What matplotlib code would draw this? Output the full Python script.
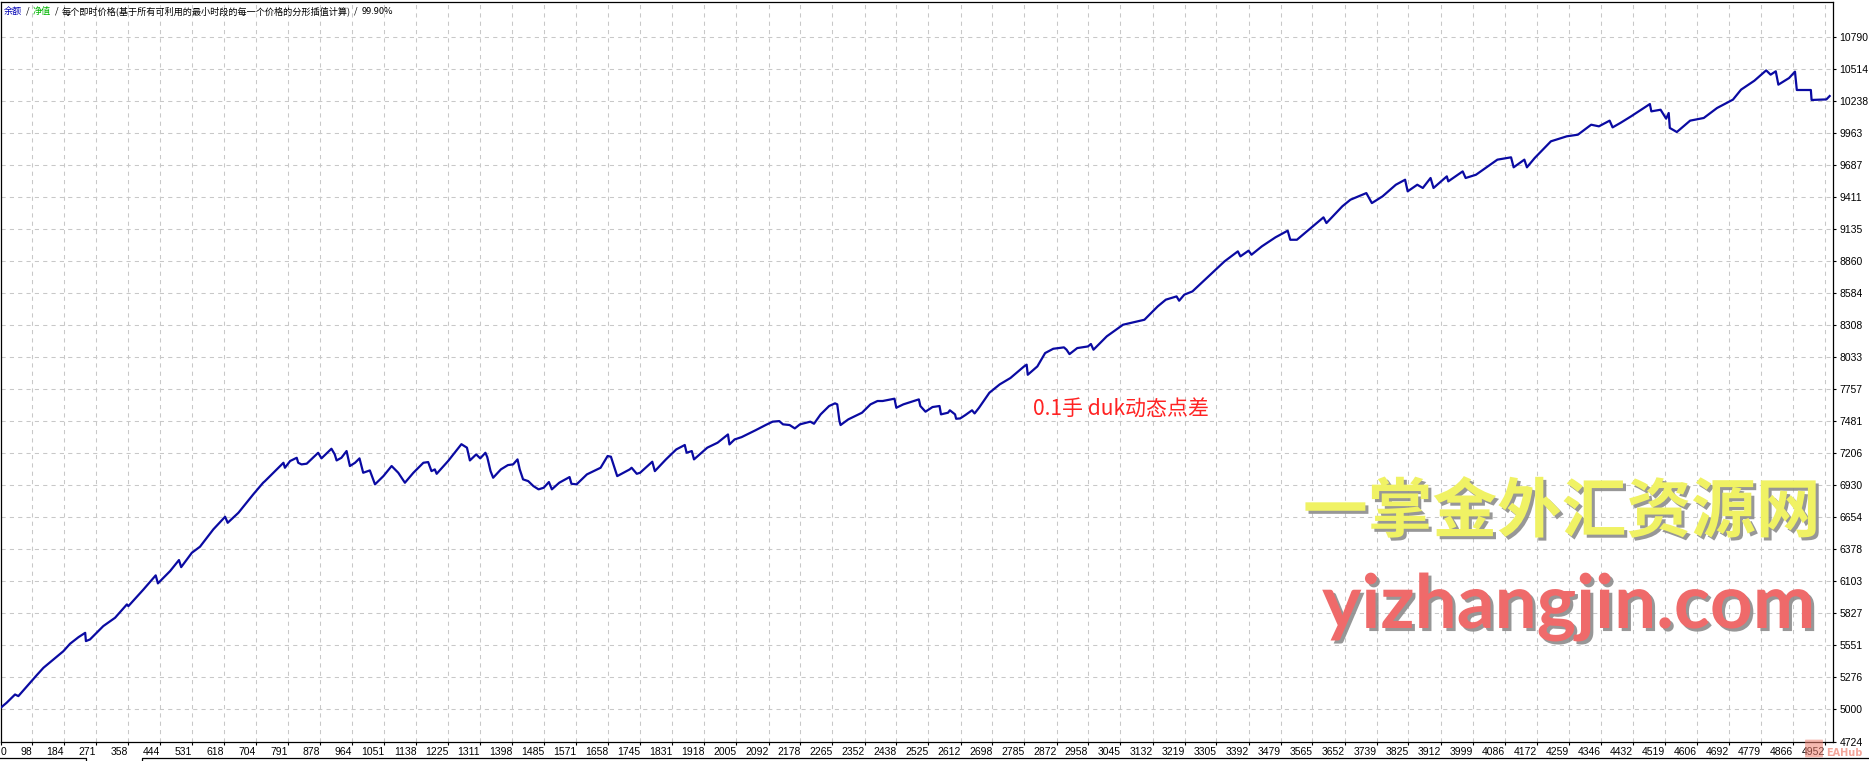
import matplotlib
matplotlib.use("Agg")
import matplotlib.pyplot as plt
import matplotlib.patheffects as pe
from matplotlib.patches import FancyBboxPatch
from matplotlib.lines import Line2D

W, H = 1869, 761

# 成交序号 / 余额
trade_no = [
    10, 28, 51, 60, 110, 128, 182, 200, 223, 241, 243, 254, 290, 322, 354, 358,
    399, 432, 438, 471, 495, 501, 530, 552, 588, 620, 627, 656, 696, 723, 728,
    778, 782, 796, 814, 818, 827, 841, 872, 881, 908, 917, 922, 935, 949, 953,
    958, 972, 984, 994, 1012, 1026, 1049, 1071, 1089, 1107, 1130, 1157, 1170,
    1179, 1188, 1193, 1224, 1260, 1275, 1283, 1300, 1311, 1325, 1330, 1339,
    1346, 1367, 1386, 1400, 1412, 1418, 1427, 1441, 1455, 1469, 1483, 1497,
    1505, 1525, 1553, 1558, 1572, 1600, 1637, 1656, 1665, 1682, 1716, 1721,
    1735, 1744, 1777, 1784, 1814, 1842, 1865, 1870, 1884, 1890, 1926, 1954,
    1982, 1986, 2000, 2019, 2056, 2084, 2103, 2121, 2131, 2149, 2163, 2177,
    2205, 2215, 2233, 2256, 2272, 2278, 2284, 2287, 2308, 2345, 2368, 2387,
    2401, 2433, 2438, 2457, 2499, 2503, 2517, 2536, 2555, 2559, 2578, 2583,
    2597, 2600, 2611, 2625, 2643, 2650, 2662, 2690, 2718, 2747, 2784, 2791,
    2794, 2820, 2841, 2863, 2892, 2899, 2907, 2928, 2957, 2965, 2972, 3008,
    3052, 3110, 3146, 3168, 3197, 3204, 3218, 3240, 3298, 3327, 3363, 3370,
    3392, 3400, 3428, 3465, 3498, 3505, 3523, 3566, 3595, 3603, 3646, 3668,
    3711, 3726, 3755, 3791, 3816, 3823, 3849, 3864, 3885, 3893, 3929, 3933,
    3972, 3980, 4008, 4066, 4103, 4110, 4139, 4146, 4167, 4211, 4254, 4284,
    4320, 4341, 4370, 4378, 4399, 4428, 4479, 4483, 4508, 4523, 4530, 4533,
    4552, 4588, 4625, 4661, 4704, 4726, 4762, 4794, 4806, 4820, 4827, 4856,
    4872, 4877, 4915, 4917, 4957, 4966,
]
balance = [
    5009, 5057, 5129, 5115, 5296, 5359, 5502, 5566, 5623, 5660, 5589, 5603,
    5718, 5790, 5905, 5890, 6034, 6155, 6086, 6192, 6287, 6226, 6350, 6402,
    6551, 6660, 6608, 6694, 6852, 6953, 6967, 7125, 7082, 7140, 7168, 7125,
    7111, 7117, 7211, 7163, 7246, 7197, 7145, 7168, 7226, 7168, 7097, 7125,
    7163, 7039, 7059, 6939, 7011, 7097, 7039, 6953, 7039, 7125, 7131, 7053,
    7068, 7030, 7140, 7285, 7255, 7145, 7197, 7163, 7211, 7174, 7053, 6996,
    7068, 7105, 7111, 7154, 7068, 6982, 6967, 6924, 6896, 6910, 6959, 6896,
    6953, 7002, 6944, 6939, 7025, 7082, 7183, 7177, 7010, 7068, 7082, 7030,
    7039, 7134, 7053, 7154, 7240, 7278, 7211, 7226, 7154, 7255, 7298, 7369,
    7283, 7326, 7346, 7404, 7450, 7479, 7484, 7456, 7450, 7421, 7456, 7479,
    7461, 7542, 7614, 7637, 7628, 7484, 7450, 7499, 7556, 7628, 7657, 7657,
    7677, 7599, 7628, 7671, 7614, 7565, 7605, 7614, 7542, 7556, 7577, 7542,
    7504, 7507, 7536, 7577, 7550, 7599, 7728, 7800, 7855, 7955, 7970, 7883,
    7955, 8070, 8107, 8119, 8099, 8061, 8113, 8127, 8148, 8099, 8214, 8314,
    8357, 8472, 8530, 8558, 8521, 8573, 8601, 8774, 8860, 8946, 8903, 8952,
    8917, 8989, 9067, 9124, 9046, 9046, 9161, 9239, 9190, 9334, 9391, 9448,
    9362, 9420, 9520, 9563, 9463, 9520, 9492, 9578, 9492, 9592, 9549, 9635,
    9578, 9606, 9736, 9756, 9670, 9736, 9670, 9750, 9894, 9937, 9951, 10037,
    10023, 10072, 10014, 10052, 10109, 10215, 10152, 10166, 10089, 10138,
    10009, 9974, 10072, 10095, 10181, 10253, 10339, 10416, 10505, 10468,
    10497, 10382, 10439, 10494, 10336, 10336, 10250, 10255, 10284,
]

y_tick_values = [4724, 5000, 5276, 5551, 5827, 6103, 6378, 6654, 6930, 7206,
                 7481, 7757, 8033, 8308, 8584, 8860, 9135, 9411, 9687, 9963,
                 10238, 10514, 10790]
x_tick_values = [0, 98, 184, 271, 358, 444, 531, 618, 704, 791, 878, 964,
                 1051, 1138, 1225, 1311, 1398, 1485, 1571, 1658, 1745, 1831,
                 1918, 2005, 2092, 2178, 2265, 2352, 2438, 2525, 2612, 2698,
                 2785, 2872, 2958, 3045, 3132, 3219, 3305, 3392, 3479, 3565,
                 3652, 3739, 3825, 3912, 3999, 4086, 4172, 4259, 4346, 4432,
                 4519, 4606, 4692, 4779, 4866, 4952]

header_parts = [("余额", "#0000b4"), ("/", "black"), ("净值", "#00b400"),
                ("/", "black"),
                ("每个即时价格(基于所有可利用的最小时段的每一个价格的分形插值计算)", "black"),
                ("/", "black"), ("99.90%", "black")]
note_text = "0.1手 duk动态点差"
watermark_cn = "一掌金外汇资源网"
watermark_url = "yizhangjin.com"

plt.rcParams["font.family"] = ["Noto Sans CJK SC", "DejaVu Sans"]
tick_font = ["Liberation Sans Narrow", "Liberation Sans", "DejaVu Sans"]

fig = plt.figure(figsize=(W / 100, H / 100), dpi=100)
ax = fig.add_axes([1 / W, (H - 741.5) / H, 1832 / W, 739.5 / H])

x_left, x_right = 13, 4975
ax.set_xlim(x_left, x_right)
ax.set_ylim(4724, 11094)

ax.plot(trade_no, balance, color="#0a0aa2", lw=1.6, zorder=3)

grid_kw = dict(color="#c8c8c8", lw=0.75, dashes=(4, 4), zorder=0)
for v in y_tick_values[1:]:
    ax.axhline(v, **grid_kw)
for v in x_tick_values[1:]:
    ax.axvline(v, **grid_kw)

ax.yaxis.tick_right()
ax.set_yticks(y_tick_values)
ax.set_yticklabels([str(v) for v in y_tick_values])
ax.set_xticks([x_left] + x_tick_values[1:])
ax.set_xticklabels([str(v) for v in x_tick_values])
ax.tick_params(axis="both", direction="out", length=2.5, width=0.8,
               labelsize=7.5, colors="black")
ax.tick_params(axis="y", pad=2)
ax.tick_params(axis="x", pad=1.5)
for i, lab in enumerate(ax.get_xticklabels()):
    lab.set_ha("left" if i == 0 else "right")
    lab.set_family(tick_font)
for lab in ax.get_yticklabels():
    lab.set_family(tick_font)
for s in ax.spines.values():
    s.set_linewidth(0.9)
    s.set_color("black")

# bottom tab frame
for xs, ys in [([0, 86, 86], [758, 758, 761]), ([141.5, 141.5, W], [761, 758, 758])]:
    fig.add_artist(Line2D([x / W for x in xs], [1 - y / H for y in ys],
                          color="black", lw=0.9))

fig.canvas.draw()
renderer = fig.canvas.get_renderer()

# header
x = 4
for txt, col in header_parts:
    t = fig.text(x / W, 1 - 11 / H, txt, color=col, fontsize=6.6,
                 va="center", ha="left")
    x += t.get_window_extent(renderer).width + 3.5


def fitted(text, x_px, y_px, width_px, va, **kw):
    t = fig.text(x_px / W, 1 - y_px / H, text, ha="left", va=va, **kw)
    w = t.get_window_extent(renderer).width
    t.set_fontsize(t.get_fontsize() * width_px / w)
    return t


fitted(note_text, 1033, 410, 176, "center", color="#ff2323", fontsize=10)

shadow = [pe.withSimplePatchShadow(offset=(2.2, -2.2), shadow_rgbFace="#8c8c8c",
                                   alpha=0.9)]
fitted(watermark_cn, 1303, 513, 517, "center", color="#f0f264", fontsize=40,
       fontweight="bold", path_effects=shadow, zorder=5)
fitted(watermark_url, 1322, 628, 493, "baseline", color="#ef6a6a", fontsize=40,
       fontweight="bold", family=["Lato", "DejaVu Sans"], path_effects=shadow,
       zorder=5)

# EAHub mark
fig.add_artist(FancyBboxPatch((1806 / W, 1 - 757 / H), 16 / W, 17 / H,
                              boxstyle="round,pad=0.0005", transform=fig.transFigure,
                              facecolor="#f08070", edgecolor="none", alpha=0.55))
fig.text(1826 / W, 1 - 753 / H, "EAHub", color="#f08070", alpha=0.7,
         fontsize=7, fontweight="bold", va="center", ha="left",
         family=["DejaVu Sans"])

fig.savefig("out.png", dpi=100)
